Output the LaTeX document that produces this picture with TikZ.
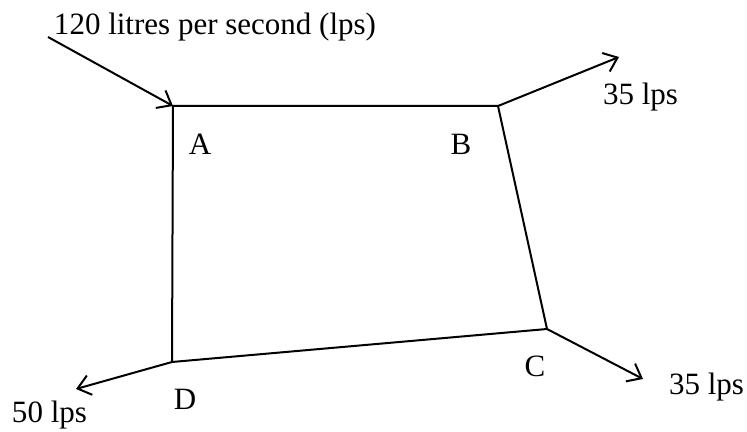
\documentclass[tikz,border=0pt]{standalone}
\usepackage{fontspec}
\setmainfont{Liberation Serif}
\usetikzlibrary{arrows.meta}

\begin{document}
\begin{tikzpicture}[x=.4pt,y=-.4pt,line width=.8pt,font=\fontsize{12.4}{15}\selectfont,
  flow/.style={-{Straight Barb[length=5pt,width=8pt,line width=.8pt]}},
  lbl/.style={anchor=base,inner sep=0pt}]
\useasboundingbox (0,0) rectangle (747,432);
\coordinate (A) at (173,106);
\coordinate (B) at (498,106);
\coordinate (C) at (547,329);
\coordinate (D) at (172,362);
\coordinate (in) at (48,37);
\coordinate (outB) at (619,57);
\coordinate (outC) at (643,379);
\coordinate (outD) at (76,389);
\draw (A) -- (B) -- (C) -- (D) -- cycle;
\draw[flow] (in) -- (A);
\draw[flow] (B) -- (outB);
\draw[flow] (C) -- (outC);
\draw[flow] (D) -- (outD);
\node[lbl,anchor=base west] (qin) at (53,35) {120 litres per second (lps)};
\node[lbl,anchor=base west] (qB) at (602,105) {35 lps};
\node[lbl,anchor=base east] (qC) at (745,395) {35 lps};
\node[lbl,anchor=base west] (qD) at (11,423) {50 lps};
\node[lbl] (lA) at (200,155) {A};
\node[lbl] (lB) at (461,155) {B};
\node[lbl] (lC) at (535,377) {C};
\node[lbl] (lD) at (185,410) {D};
\end{tikzpicture}
\end{document}
